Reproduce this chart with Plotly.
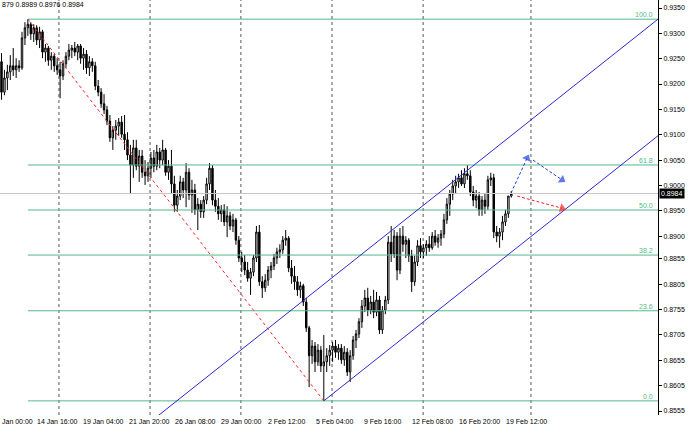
import plotly.graph_objects as go

# ---------------- data (EURUSD-like H4 bars) ----------------
first_open = 0.9244
highs = [
    .9261, .9228, .9238, .9257, .9271, .9251, .9247, .9303, .9322, .9328,
    .9322, .9318, .9316, .9313, .9307, .9279, .9275, .9263, .9259, .9251,
    .9244, .9247, .9263, .9279, .9277, .9283, .9279, .9279, .9271, .9267,
    .9255, .9251, .9244, .9208, .9192, .9180, .9157, .9139, .9117, .9129,
    .9133, .9137, .9139, .9105, .9080, .9090, .9090, .9070, .9070, .9050,
    .9046, .9066, .9070, .9080, .9074, .9090, .9074, .9050, .9070, .9019,
    .8991, .9019, .9015, .9044, .9034, .9011, .9003, .8975, .8971, .8979,
    .9015, .9044, .9040, .8991, .8975, .8961, .8963, .8959, .8948, .8944,
    .8936, .8900, .8869, .8863, .8849, .8837, .8863, .8920, .8922, .8821,
    .8825, .8841, .8849, .8865, .8877, .8884, .8900, .8912, .8900, .8853,
    .8841, .8821, .8810, .8806, .8778, .8723, .8695, .8691, .8687, .8683,
    .8705, .8679, .8685, .8691, .8695, .8687, .8687, .8683, .8679, .8675,
    .8703, .8715, .8738, .8774, .8794, .8798, .8782, .8794, .8790, .8782,
    .8762, .8782, .8900, .8920, .8912, .8908, .8916, .8920, .8900, .8896,
    .8873, .8861, .8892, .8896, .8884, .8892, .8900, .8908, .8912, .8904,
    .8912, .8944, .8975, .8991, .9011, .9019, .9023, .9030, .9034, .9040,
    .9030, .8999, .8991, .8987, .8979, .8983, .9019, .9025, .9023, .8920,
    .8916, .8940, .8952, .8979, .8989,
]
lows = [
    .9169, .9178, .9188, .9208, .9216, .9212, .9224, .9228, .9277, .9295,
    .9287, .9283, .9277, .9271, .9251, .9244, .9236, .9228, .9224, .9218,
    .9172, .9208, .9232, .9247, .9251, .9255, .9247, .9240, .9228, .9220,
    .9216, .9224, .9188, .9176, .9153, .9141, .9119, .9086, .9070, .9090,
    .9098, .9094, .9070, .9050, .8985, .9015, .9030, .9007, .9015, .9001,
    .9007, .9015, .9026, .9030, .9034, .9040, .9019, .9011, .8983, .8948,
    .8948, .8971, .8975, .8957, .8971, .8946, .8942, .8912, .8936, .8936,
    .8963, .8991, .8961, .8948, .8932, .8928, .8920, .8898, .8912, .8908,
    .8883, .8849, .8829, .8823, .8810, .8784, .8821, .8849, .8802, .8778,
    .8790, .8802, .8817, .8833, .8845, .8857, .8865, .8881, .8829, .8806,
    .8794, .8782, .8778, .8762, .8711, .8602, .8648, .8632, .8644, .8632,
    .8575, .8632, .8644, .8652, .8660, .8656, .8648, .8644, .8624, .8612,
    .8656, .8679, .8699, .8719, .8750, .8742, .8746, .8738, .8742, .8707,
    .8707, .8746, .8766, .8849, .8857, .8813, .8825, .8869, .8857, .8849,
    .8790, .8802, .8841, .8857, .8857, .8861, .8869, .8873, .8881, .8877,
    .8881, .8896, .8924, .8940, .8971, .8983, .8995, .8999, .8995, .9011,
    .8979, .8959, .8955, .8940, .8940, .8944, .8952, .8999, .8896, .8888,
    .8877, .8892, .8920, .8936, .8976,
]
closes = [
    .9184, .9212, .9224, .9236, .9228, .9236, .9232, .9291, .9311, .9318,
    .9299, .9311, .9287, .9303, .9263, .9271, .9247, .9255, .9236, .9228,
    .9216, .9240, .9255, .9267, .9271, .9263, .9275, .9251, .9259, .9232,
    .9244, .9236, .9196, .9184, .9161, .9149, .9127, .9094, .9109, .9117,
    .9125, .9101, .9090, .9060, .9040, .9074, .9038, .9058, .9026, .9019,
    .9034, .9054, .9038, .9066, .9050, .9070, .9026, .9038, .9003, .8961,
    .8979, .9007, .8991, .9026, .8981, .8991, .8952, .8963, .8948, .8971,
    .9003, .9034, .8971, .8959, .8944, .8952, .8928, .8940, .8920, .8932,
    .8892, .8857, .8849, .8833, .8817, .8829, .8857, .8908, .8810, .8798,
    .8813, .8833, .8841, .8857, .8869, .8873, .8892, .8896, .8837, .8821,
    .8810, .8794, .8802, .8770, .8719, .8664, .8683, .8652, .8675, .8644,
    .8652, .8664, .8675, .8683, .8671, .8679, .8656, .8671, .8632, .8664,
    .8695, .8707, .8731, .8762, .8778, .8754, .8770, .8750, .8774, .8715,
    .8754, .8774, .8888, .8865, .8900, .8833, .8900, .8884, .8892, .8861,
    .8810, .8849, .8881, .8869, .8877, .8884, .8877, .8900, .8888, .8896,
    .8904, .8932, .8963, .8983, .8999, .9007, .9015, .9003, .9023, .9019,
    .8987, .8971, .8979, .8952, .8971, .8959, .9011, .9015, .8908, .8900,
    .8908, .8928, .8944, .8979, .8984,
]
opens = [first_open] + closes[:-1]
bars = list(range(len(closes)))

# price scale tick labels (MT4 style)
y_ticks = [0.9350, 0.9300, 0.9250, 0.9200, 0.9150, 0.9100, 0.9050, 0.9000, 0.8950,
           0.8900, 0.8855, 0.8805, 0.8755, 0.8705, 0.8655, 0.8605, 0.8555]

# time scale labels (first one is cut off at the left edge in the original) and their start bars
time_labels = ["Jan 00:00", "14 Jan 16:00", "19 Jan 04:00", "21 Jan 20:00", "26 Jan 08:00",
               "29 Jan 00:00", "2 Feb 12:00", "5 Feb 04:00", "9 Feb 16:00", "12 Feb 08:00",
               "16 Feb 20:00", "19 Feb 12:00"]
time_label_bars = [-0.45, 11.4, 27.1, 42.8, 58.5, 74.2, 90.3, 106.7, 123.0, 139.4, 155.5, 171.5]

# vertical grid line bars
grid_bars = [19.6, 50.7, 81.7, 112.8, 143.9, 180.7]

# Fibonacci retracement anchors
fib_high_bar, fib_high = 9, 0.9328
fib_low_bar, fib_low = 110, 0.8575
fib_levels = [0.0, 23.6, 38.2, 50.0, 61.8, 100.0]

# channel (lower line from the low, upper parallel line)
chan_start_bar, chan_start_price = 110, 0.8575
chan_end_price = 0.9098
chan_upper_end_price = 0.9328

# projection arrows [(bar0, price0, bar1, price1)]
blue_arrows = [(173.9, 0.8985, 179.4, 0.9054), (181.4, 0.9050, 191.3, 0.9011)]
red_arrows = [(176.0, 0.8979, 191.3, 0.8955)]

last_price = 0.8984
header_text = "879 0.8989 0.8976 0.8984"

# ---------------- figure ----------------
X_MIN, X_MAX = -0.512, 224.06
Y_MIN, Y_MAX = 0.85471, 0.93658
FIB_GREEN = "#52b98a"
BLUE = "#2a2ad0"
FONT = "Liberation Sans"

fig = go.Figure()

# fib horizontal levels
for lvl in fib_levels:
    p = fib_low + (fib_high - fib_low) * lvl / 100.0
    fig.add_trace(go.Scatter(x=[fib_high_bar, X_MAX], y=[p, p], mode="lines",
                             line=dict(color=FIB_GREEN, width=1), hoverinfo="skip"))
    fig.add_annotation(x=0.9955, xref="paper", y=p, yref="y", text=f"{lvl:.1f}",
                       showarrow=False, xanchor="right", yanchor="bottom", yshift=-1,
                       font=dict(family=FONT, size=7, color=FIB_GREEN))

# current price line
fig.add_trace(go.Scatter(x=[X_MIN, X_MAX], y=[last_price, last_price], mode="lines",
                         line=dict(color="#c8c8c8", width=1), hoverinfo="skip"))

# candles
fig.add_trace(go.Candlestick(
    x=bars, open=opens, high=highs, low=lows, close=closes,
    increasing=dict(line=dict(color="black", width=1), fillcolor="white"),
    decreasing=dict(line=dict(color="black", width=1), fillcolor="black"),
    whiskerwidth=0, hoverinfo="skip"))

# red dashed fib trend line
fig.add_trace(go.Scatter(x=[fib_high_bar, fib_low_bar], y=[fib_high, fib_low], mode="lines",
                         line=dict(color="#ff2020", width=1, dash="3px,3px"), hoverinfo="skip"))

# channel
slope = (chan_end_price - chan_start_price) / (X_MAX - chan_start_bar)
fig.add_trace(go.Scatter(x=[chan_start_bar, X_MAX], y=[chan_start_price, chan_end_price],
                         mode="lines", line=dict(color=BLUE, width=1), hoverinfo="skip"))
up_x0 = 40
fig.add_trace(go.Scatter(x=[up_x0, X_MAX],
                         y=[chan_upper_end_price - slope * (X_MAX - up_x0), chan_upper_end_price],
                         mode="lines", line=dict(color=BLUE, width=1), hoverinfo="skip"))

# arrows
for arrows, col in ((blue_arrows, "#1f3fe0"), (red_arrows, "#ff2020")):
    for (b0, p0, b1, p1) in arrows:
        fig.add_trace(go.Scatter(x=[b0, b1], y=[p0, p1], mode="lines+markers",
                                 line=dict(color=col, width=1, dash="3px,2px"),
                                 marker=dict(symbol="triangle-up", size=[0, 8], color=col,
                                             angleref="previous", line=dict(width=0)),
                                 hoverinfo="skip"))

# grid lines
for gb in grid_bars:
    fig.add_shape(type="line", x0=gb, x1=gb, xref="x", y0=0, y1=1, yref="paper",
                  line=dict(color="#555555", width=1, dash="dot"), layer="below")

# time labels
for lab, tb in zip(time_labels, time_label_bars):
    fig.add_annotation(x=(tb - X_MIN) / (X_MAX - X_MIN), xref="paper", y=0, yref="paper",
                       text=lab, showarrow=False, xanchor="left", yanchor="top", yshift=-1,
                       font=dict(family=FONT, size=7, color="black"))

# current price box
fig.add_annotation(x=1.0, xref="paper", y=last_price, yref="y", text=f"{last_price:.4f}",
                   showarrow=False, xanchor="left", xshift=1, bgcolor="black", borderpad=1,
                   font=dict(family=FONT, size=7, color="white"))

# header text
fig.add_annotation(x=0, xref="paper", y=1, yref="paper", text=header_text, showarrow=False,
                   xanchor="left", yanchor="top", yshift=1,
                   font=dict(family=FONT, size=7, color="black"))

fig.update_layout(
    width=690, height=426,
    margin=dict(l=0, r=32, t=0, b=11),
    paper_bgcolor="white", plot_bgcolor="white",
    showlegend=False, hovermode=False,
    xaxis=dict(range=[X_MIN, X_MAX], showgrid=False, zeroline=False, showticklabels=False,
               ticks="", showline=False, rangeslider=dict(visible=False), fixedrange=True),
    yaxis=dict(range=[Y_MIN, Y_MAX], side="right", showgrid=False, zeroline=False,
               tickvals=y_ticks, ticktext=[f"{v:.4f}" for v in y_ticks],
               ticks="outside", ticklen=3, tickcolor="black", showline=True,
               linecolor="black", linewidth=1,
               tickfont=dict(family=FONT, size=7, color="black")),
)

fig.write_html("out.html", config={"displayModeBar": False},
               post_script="document.body.style.margin='0';document.body.style.padding='0';")
